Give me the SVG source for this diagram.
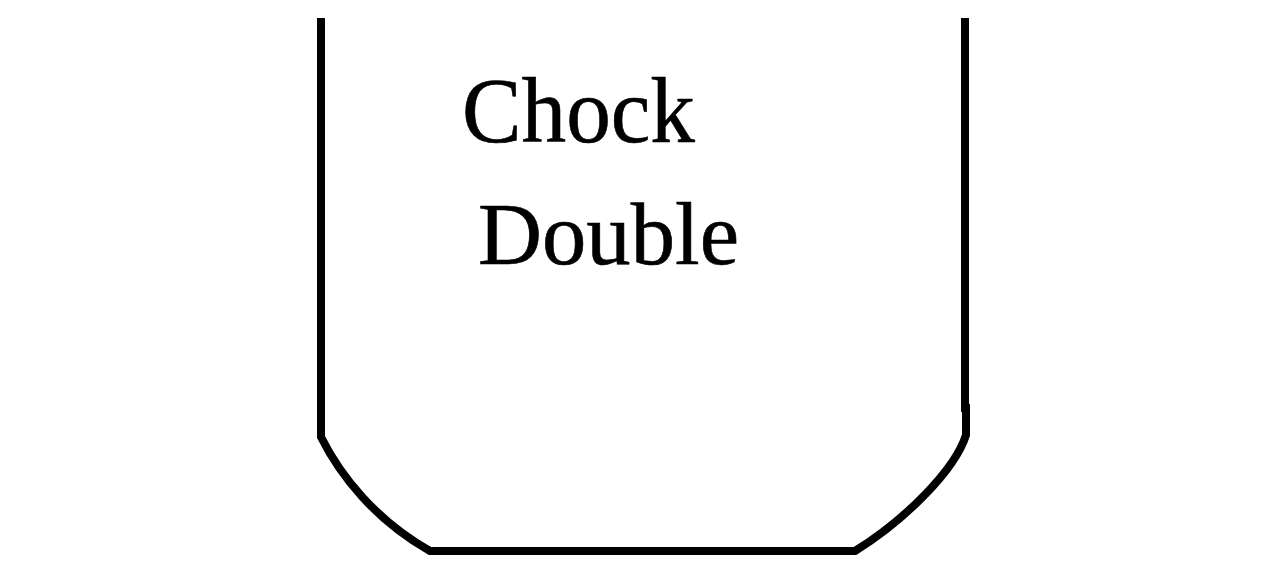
<svg xmlns="http://www.w3.org/2000/svg" width="1280" height="571" viewBox="0 0 1280 571">
<style>
.outline{fill:none;stroke:#000;stroke-width:8;stroke-linejoin:miter;stroke-linecap:butt}
.lbl{font-family:"Liberation Serif","Times New Roman",serif;fill:#000;stroke:#000;stroke-width:0.6}
</style>
<rect width="1280" height="571" fill="#fff"/>
<g id="chock">
<path class="outline" d="M321,18 V437 C340,475 375,520 430,551 H855 C905,520 955,470 966,435 V408 H965 V18"/>
</g>
<g id="labels">
<text class="lbl" x="462" y="142" font-size="93" textLength="233" lengthAdjust="spacingAndGlyphs">Chock</text>
<text class="lbl" x="478" y="264" font-size="89" textLength="261" lengthAdjust="spacingAndGlyphs">Double</text>
</g>
</svg>
